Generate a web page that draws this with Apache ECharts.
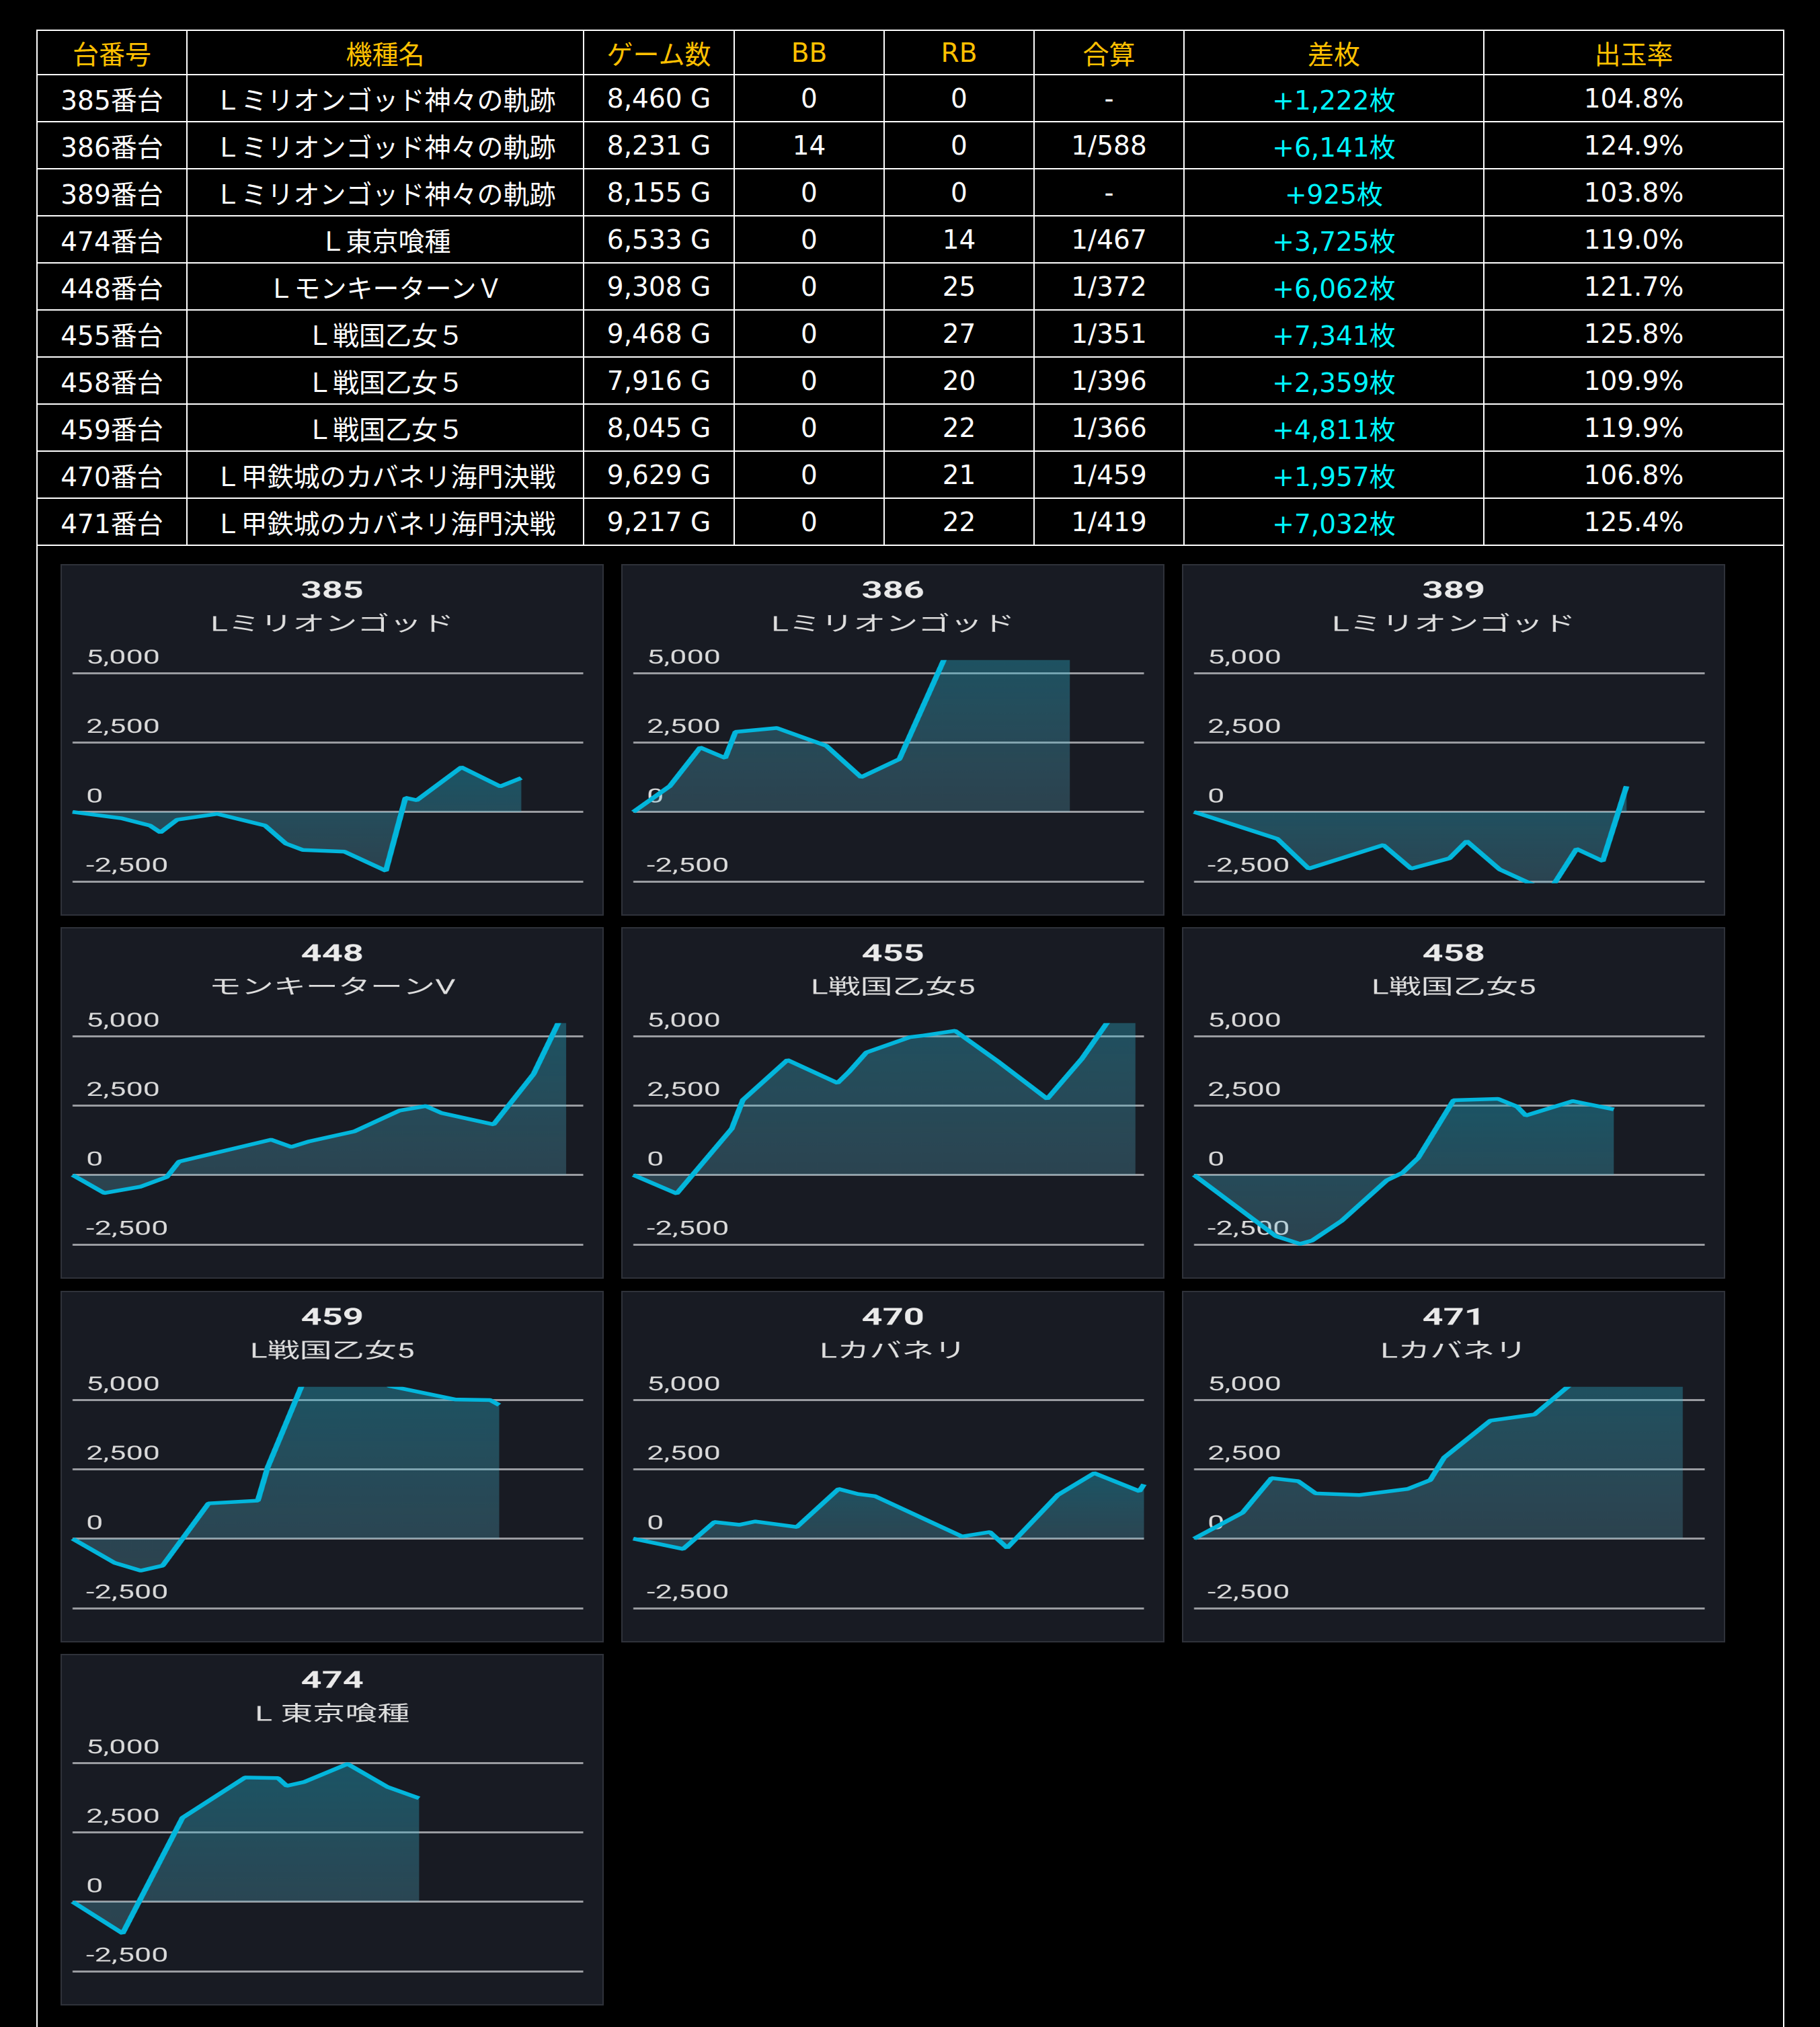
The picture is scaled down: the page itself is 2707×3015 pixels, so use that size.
<!DOCTYPE html>
<html lang="ja">
<head>
<meta charset="UTF-8" />
<meta name="viewport" content="width=device-width, initial-scale=1.0" />
<title>台データ</title>
<script src="https://cdn.jsdelivr.net/npm/echarts@6.0.0/dist/echarts.min.js"></script>
<style>
  body { margin: 0; background: #000; }
  .wrap { position: absolute; left: 54px; top: 44px; }
  table {
    border-collapse: collapse; table-layout: fixed; width: 2598px;
    font-family: "DejaVu Sans", "Noto Sans CJK JP", sans-serif; font-size: 39px; color: #fff;
  }
  th, td { border: 2px solid #fff; padding: 0; text-align: center; vertical-align: middle; white-space: nowrap; }
  th { color: #ffc000; font-weight: normal; height: 64px; }
  td { height: 68px; }
  td.diff { color: #00f5ff; }
  td.charts { text-align: left; vertical-align: top; padding: 27px 0 120px 34px; }
  .panels { display: flex; flex-wrap: wrap; column-gap: 26px; row-gap: 17.3px; width: 2480px; }
  .panel {
    position: relative; width: 808px; height: 523px; box-sizing: border-box;
    background: #181b23; border: 2px solid #2f323a; overflow: hidden;
  }
  .chart { position: absolute; left: 0; top: 0; width: 518.7px; height: 519px; transform: scaleX(1.55); transform-origin: 0 0; }
</style>
</head>
<body>
<div class="wrap">
  <table id="tbl">
    <colgroup>
      <col style="width:223px" /><col style="width:590px" /><col style="width:224px" /><col style="width:223px" />
      <col style="width:223px" /><col style="width:223px" /><col style="width:446px" /><col style="width:446px" />
    </colgroup>
  </table>
</div>
<script>
  // table data
  var headers = ["台番号", "機種名", "ゲーム数", "BB", "RB", "合算", "差枚", "出玉率"];
  var tableNos = ["385", "386", "389", "474", "448", "455", "458", "459", "470", "471"];
  var tableNames = [
    "Ｌミリオンゴッド神々の軌跡", "Ｌミリオンゴッド神々の軌跡", "Ｌミリオンゴッド神々の軌跡",
    "Ｌ東京喰種", "ＬモンキーターンＶ", "Ｌ戦国乙女５", "Ｌ戦国乙女５", "Ｌ戦国乙女５",
    "Ｌ甲鉄城のカバネリ海門決戦", "Ｌ甲鉄城のカバネリ海門決戦"
  ];
  var tableGames = [8460, 8231, 8155, 6533, 9308, 9468, 7916, 8045, 9629, 9217];
  var tableBB = [0, 14, 0, 0, 0, 0, 0, 0, 0, 0];
  var tableRB = [0, 0, 0, 14, 25, 27, 20, 22, 21, 22];
  var tableTotal = ["-", "1/588", "-", "1/467", "1/372", "1/351", "1/396", "1/366", "1/459", "1/419"];
  var tableDiff = [1222, 6141, 925, 3725, 6062, 7341, 2359, 4811, 1957, 7032];
  var tableRate = ["104.8%", "124.9%", "103.8%", "119.0%", "121.7%", "125.8%", "109.9%", "119.9%", "106.8%", "125.4%"];

  // chart data: games played, coin difference
  var chartNos = ["385", "386", "389", "448", "455", "458", "459", "470", "471", "474"];
  var chartNames = ["Lミリオンゴッド", "Lミリオンゴッド", "Lミリオンゴッド", "モンキーターンV", "L戦国乙女5",
    "L戦国乙女5", "L戦国乙女5", "Lカバネリ", "Lカバネリ", "L 東京喰種"];

  var games385 = [0, 925, 1459, 1656, 1971, 2726, 3629, 4021, 4341, 5125, 5907, 6277, 6491, 7331, 8063, 8460];
  var diff385 = [0, -230, -490, -740, -280, -70, -490, -1140, -1370, -1430, -2120, 510, 420, 1610, 920, 1222];
  var games386 = [0, 688, 1261, 1733, 1926, 2706, 3640, 4295, 5017, 5970, 6740, 7511, 8231];
  var diff386 = [0, 930, 2320, 1940, 2880, 3020, 2380, 1250, 1900, 5960, 6500, 6300, 6141];
  var games389 = [0, 1572, 2162, 3569, 4094, 4815, 5142, 5764, 6692, 7212, 7707, 8155];
  var diff389 = [0, -970, -2040, -1190, -2040, -1670, -1050, -2070, -2880, -1330, -1770, 925];
  var games448 = [0, 597, 1285, 1777, 2006, 3743, 4123, 4464, 5316, 6168, 6659, 6955, 7938, 8692, 9308];
  var diff448 = [0, -650, -420, -70, 480, 1270, 1010, 1210, 1570, 2320, 2480, 2230, 1820, 3630, 6062];
  var games455 = [0, 819, 1857, 2066, 2906, 3851, 4066, 4395, 5214, 5477, 6067, 6888, 7805, 8461, 9051, 9468];
  var diff455 = [0, -670, 1670, 2700, 4140, 3310, 3710, 4410, 4960, 5020, 5190, 4070, 2740, 4190, 5800, 7341];
  var games458 = [0, 1541, 1998, 2227, 2784, 3636, 3931, 4225, 4893, 5731, 6092, 6256, 7140, 7916];
  var diff458 = [0, -2200, -2480, -2360, -1650, -190, 80, 610, 2690, 2740, 2460, 2140, 2660, 2359];
  var games459 = [0, 793, 1285, 1698, 2563, 3493, 3677, 4429, 5392, 5970, 7217, 7873, 8045];
  var diff459 = [0, -870, -1150, -970, 1270, 1370, 2560, 6000, 6300, 5500, 5010, 4990, 4811];
  var games470 = [0, 938, 1528, 2001, 2296, 3083, 3870, 4231, 4558, 6198, 6723, 7051, 8003, 8691, 9543, 9629];
  var diff470 = [0, -370, 600, 500, 620, 420, 1790, 1610, 1530, 80, 240, -330, 1570, 2360, 1710, 1957];
  var games471 = [0, 917, 1461, 1965, 2293, 3111, 4029, 4454, 4716, 5588, 6420, 7318, 8185, 9217];
  var diff471 = [0, 940, 2180, 2070, 1630, 1570, 1790, 2110, 2920, 4250, 4470, 5900, 6800, 7032];
  var games474 = [0, 944, 2071, 3251, 3874, 4038, 4366, 5185, 5939, 6533];
  var diff474 = [0, -1140, 3020, 4470, 4450, 4170, 4310, 4960, 4130, 3725];

  var chartGames = [games385, games386, games389, games448, games455, games458, games459, games470, games471, games474];
  var chartDiffs = [diff385, diff386, diff389, diff448, diff455, diff458, diff459, diff470, diff471, diff474];

  var FONT = 'Roboto, "Noto Sans CJK JP", sans-serif';

  function comma(n) {
    return String(n).replace(/\B(?=(\d{3})+(?!\d))/g, ",");
  }

  // build table
  var tbl = document.getElementById("tbl");
  var html = "<tr>";
  headers.forEach(function (h) { html += "<th>" + h + "</th>"; });
  html += "</tr>";
  for (var i = 0; i < tableNos.length; i++) {
    html += "<tr>" +
      "<td>" + tableNos[i] + "番台</td>" +
      "<td>" + tableNames[i] + "</td>" +
      "<td>" + comma(tableGames[i]) + " G</td>" +
      "<td>" + tableBB[i] + "</td>" +
      "<td>" + tableRB[i] + "</td>" +
      "<td>" + tableTotal[i] + "</td>" +
      '<td class="diff">+' + comma(tableDiff[i]) + "枚</td>" +
      "<td>" + tableRate[i] + "</td>" +
      "</tr>";
  }
  html += '<tr><td colspan="8" class="charts"><div class="panels" id="panels"></div></td></tr>';
  tbl.insertAdjacentHTML("beforeend", html);

  var gameMax = Math.max.apply(null, tableGames);
  var panels = document.getElementById("panels");

  function makeOption(i) {
    var pts = chartGames[i].map(function (g, j) { return [g, chartDiffs[i][j]]; });
    return {
      animation: false,
      title: {
        text: chartNos[i],
        subtext: chartNames[i],
        left: "center",
        top: 17,
        itemGap: 17,
        textStyle: { color: "#eaeaea", fontSize: 35, fontWeight: "bold", fontFamily: FONT },
        subtextStyle: { color: "#dedede", fontSize: 31, fontFamily: FONT }
      },
      grid: { left: 10.3, right: 18.7, top: 143.5, bottom: 49, outerBoundsMode: "none" },
      xAxis: { type: "value", min: 0, max: gameMax, show: false },
      yAxis: {
        type: "value",
        min: -2500,
        max: 5400,
        interval: 2500,
        axisLine: { show: false },
        axisTick: { show: false },
        axisLabel: {
          inside: true, margin: 13, showMaxLabel: false, verticalAlign: "bottom",
          padding: [0, 0, 7, 0], color: "#dadada", fontSize: 29, fontFamily: FONT
        },
        splitLine: { show: true, showMaxLine: false, lineStyle: { color: "#9a9ca1", width: 3 } }
      },
      series: [{
        type: "line",
        data: pts,
        symbol: "none",
        clip: true,
        lineStyle: { color: "#03b6dc", width: 5.5 },
        areaStyle: {
          color: new echarts.graphic.LinearGradient(0, 0, 0, 1, [
            { offset: 0, color: "rgba(30,178,208,0.55)" },
            { offset: 1, color: "rgba(105,185,210,0.36)" }
          ])
        }
      }]
    };
  }

  for (var c = 0; c < chartNos.length; c++) {
    var panel = document.createElement("div");
    panel.className = "panel";
    var el = document.createElement("div");
    el.className = "chart";
    panel.appendChild(el);
    panels.appendChild(panel);
    var chart = echarts.init(el, null, { devicePixelRatio: 2 });
    chart.setOption(makeOption(c));
  }
</script>
</body>
</html>
